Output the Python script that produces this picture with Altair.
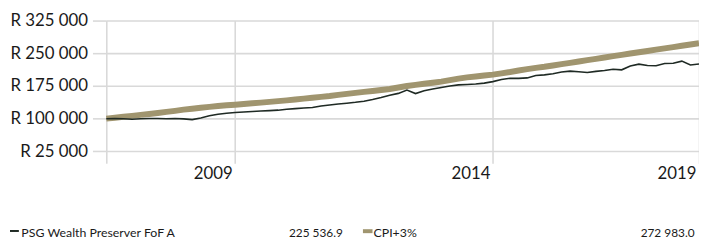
import altair as alt
import pandas as pd

# months since start of series (every second month)
months = list(range(0, 139, 2))

# values in R thousands
psg = [100.0, 100.3, 99.8, 98.5, 99.7, 100.2, 100.5, 100.0, 100.4, 99.6,
       97.8, 101.5, 106.5, 110.0, 112.5, 114.0, 115.2, 116.3, 117.5, 118.5,
       119.5, 121.5, 123.0, 124.3, 125.5, 129.0, 131.5, 133.5, 135.5, 137.5,
       140.0, 144.0, 148.5, 153.5, 158.0, 165.5, 157.5, 164.0, 168.0, 171.5,
       175.0, 177.5, 178.5, 179.5, 181.5, 185.0, 190.0, 192.5, 192.5, 193.5,
       199.0, 200.5, 203.0, 207.0, 209.0, 207.5, 206.0, 208.5, 210.5, 213.5,
       212.0, 221.0, 225.0, 222.0, 221.5, 226.5, 227.0, 232.0, 223.0, 225.5369]
cpi = [100.0, 102.0, 104.3, 106.5, 108.6, 110.8, 113.0, 115.6, 118.0, 120.6,
       122.8, 125.0, 127.0, 129.0, 130.6, 132.0, 133.6, 135.2, 136.9, 138.5,
       140.2, 142.0, 143.8, 146.0, 148.0, 150.0, 152.0, 154.5, 157.0, 159.2,
       161.4, 163.5, 165.8, 168.0, 171.5, 175.0, 177.5, 180.0, 182.5, 185.0,
       188.5, 192.0, 194.8, 196.8, 199.0, 201.0, 204.0, 207.0, 210.5, 213.5,
       216.5, 219.0, 222.0, 225.0, 228.0, 231.2, 234.2, 237.2, 240.4, 243.4,
       246.4, 249.5, 252.4, 255.2, 258.2, 261.2, 264.2, 267.2, 270.2, 272.983]

names = ["PSG Wealth Preserver FoF A", "CPI+3%"]
colors = ["#1f2a24", "#A0956F"]

x_tick_pos = [0, 30, 90, 138]
x_tick_lab = ["", "2009", "2014", "2019"]
y_ticks = [25000, 100000, 175000, 250000, 325000]

n = len(months)
df = pd.DataFrame({
    "month": months * 2,
    "value": [v * 1000 for v in psg] + [v * 1000 for v in cpi],
    "series": [names[0]] * n + [names[1]] * n,
})

expr = "''"
for p, l in zip(x_tick_pos, x_tick_lab):
    expr = f"datum.value == {p} ? '{l}' : ({expr})"

FONT = "Lato"
GRID = "#d9d9d9"

x = alt.X("month:Q",
          scale=alt.Scale(domain=[0, 138], nice=False, zero=False),
          axis=alt.Axis(values=x_tick_pos, labelExpr=expr, title=None,
                        grid=True, gridColor=GRID, gridWidth=1.6,
                        domain=False, ticks=True, tickColor=GRID, tickWidth=1.6,
                        tickSize=12, labelAlign="right", labelOffset=-3,
                        labelPadding=2, labelFont=FONT, labelFontSize=17,
                        labelColor="#1a1a1a", labelOverlap=False,
                        labelFlush=False, labelBound=False))
y = alt.Y("value:Q",
          scale=alt.Scale(domain=[25000, 325000], nice=False, zero=False),
          axis=alt.Axis(values=y_ticks,
                        labelExpr="'R ' + replace(format(datum.value, ','), ',', ' ')",
                        title=None, grid=True, gridColor=GRID, gridWidth=1.6,
                        domain=False, ticks=True, tickColor=GRID, tickWidth=1.6,
                        tickSize=14, labelPadding=5, labelFont=FONT,
                        labelFontSize=17, labelColor="#1a1a1a"))

base = alt.Chart(df)
cpi_line = base.transform_filter(alt.datum.series == names[1]).mark_line(
    color=colors[1], strokeWidth=6, strokeCap="butt").encode(x=x, y=y)
psg_line = base.transform_filter(alt.datum.series == names[0]).mark_line(
    color=colors[0], strokeWidth=1.6).encode(x=x, y=y)


def fmt(v):
    return f"{v * 1000:,.1f}".replace(",", " ")


one = pd.DataFrame({"k": [0]})


def text(t, xpos, align, size):
    return alt.Chart(pd.DataFrame({"t": [t]})).mark_text(
        align=align, baseline="alphabetic", font=FONT, fontSize=size,
        color="#1a1a1a").encode(text="t:N", x=alt.value(xpos), y=alt.value(218.7))


legend = [
    alt.Chart(one).mark_rule(color=colors[0], strokeWidth=2).encode(
        x=alt.value(-97.5), x2=alt.value(-88.5), y=alt.value(213)),
    text(names[0], -86, "left", 12.5),
    text(fmt(psg[-1]), 239.5, "right", 12),
    alt.Chart(one).mark_rule(color=colors[1], strokeWidth=4).encode(
        x=alt.value(259.8), x2=alt.value(269.5), y=alt.value(213.2)),
    text(names[1], 270.5, "left", 12.5),
    text(fmt(cpi[-1]), 595.5, "right", 12),
]

chart = alt.layer(cpi_line, psg_line, *legend).properties(
    width=600, height=132.4,
    autosize=alt.AutoSizeParams(type="none"),
    padding={"left": 99.5, "top": 11.3, "right": 0, "bottom": 88.3},
    background="white",
).configure_view(stroke=None)

chart.save("out.html", embed_options={"renderer": "svg", "actions": False})
